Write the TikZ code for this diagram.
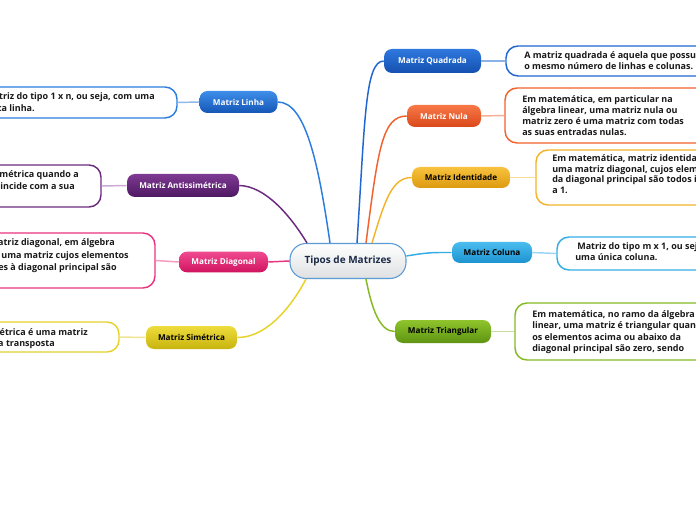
\documentclass[tikz,border=0pt]{standalone}
\usepackage{fontspec}
\setmainfont{Open Sans}
\usetikzlibrary{calc}
\definecolor{cLinha}{HTML}{2B7DE0}
\definecolor{cLinhaT}{HTML}{3E8EEA}
\definecolor{cLinhaB}{HTML}{1556B5}
\definecolor{cLinhaL}{HTML}{8DB9EC}
\definecolor{cAnti}{HTML}{6B2A7F}
\definecolor{cAntiT}{HTML}{7E3A92}
\definecolor{cAntiB}{HTML}{4E1862}
\definecolor{cAntiL}{HTML}{CDA9D8}
\definecolor{cDiag}{HTML}{E8337F}
\definecolor{cDiagT}{HTML}{F04A90}
\definecolor{cDiagB}{HTML}{D0145F}
\definecolor{cDiagL}{HTML}{F59BBF}
\definecolor{cSim}{HTML}{E6D229}
\definecolor{cSimT}{HTML}{EEDC3C}
\definecolor{cSimB}{HTML}{C8B40E}
\definecolor{cSimL}{HTML}{F1E594}
\definecolor{cQuad}{HTML}{1F66D0}
\definecolor{cQuadT}{HTML}{2F78DE}
\definecolor{cQuadB}{HTML}{1450B0}
\definecolor{cQuadL}{HTML}{8CB3E8}
\definecolor{cNula}{HTML}{F2622E}
\definecolor{cNulaT}{HTML}{F87848}
\definecolor{cNulaB}{HTML}{D9481A}
\definecolor{cNulaL}{HTML}{F7B096}
\definecolor{cIdent}{HTML}{F4B42A}
\definecolor{cIdentT}{HTML}{F8C23E}
\definecolor{cIdentB}{HTML}{DC9A10}
\definecolor{cIdentL}{HTML}{F9DB9A}
\definecolor{cCol}{HTML}{33ADE6}
\definecolor{cColT}{HTML}{4ABCEE}
\definecolor{cColB}{HTML}{1C92D0}
\definecolor{cColL}{HTML}{9AD6F2}
\definecolor{cTri}{HTML}{84BA22}
\definecolor{cTriT}{HTML}{8FC42C}
\definecolor{cTriB}{HTML}{5E9412}
\definecolor{cTriL}{HTML}{C9E0A0}
\definecolor{cCtrB}{HTML}{5A9AD5}
\definecolor{cCtrTxt}{HTML}{1B2A48}
\definecolor{cTxt}{HTML}{1A1A1A}
\begin{document}
\begin{tikzpicture}[x=0.75pt,y=-0.75pt,
  branch/.style={rounded corners=6pt, inner sep=0pt, font=\fontsize{6.1}{7}\selectfont\bfseries},
  tbox/.style={draw, rounded corners=9pt, line width=1.1pt, fill=white, inner sep=0pt},
  tline/.style={font=\fontsize{6.75}{8}\selectfont\bfseries, inner sep=0pt, text=cTxt},
  curve/.style={line width=1.1pt},
  link/.style={line width=1.1pt}]
\useasboundingbox (0,0) rectangle (696,520);
\clip (0,0) rectangle (696,520);
\fill[white] (0,0) rectangle (696,520);

% central node
\node[rounded corners=12pt, draw=cCtrB, line width=0.8pt, top color=white, bottom color=cCtrB!10!gray!25, minimum width=87pt, minimum height=26.25pt, inner sep=0pt, text=cCtrTxt, font=\fontsize{7.5}{9}\selectfont\bfseries] (ctr) at (348,261) {Tipos de Matrizes};

% branch nodes
\node[branch, top color=cLinhaT, bottom color=cLinhaB, text=white, minimum width=58.5pt, minimum height=16.5pt] (linha) at (238.5,102) {Matriz Linha};
\node[branch, top color=cAntiT, bottom color=cAntiB, text=white, minimum width=84pt, minimum height=17.25pt] (anti) at (183,185.5) {Matriz Antissimétrica};
\node[branch, top color=cDiagT, bottom color=cDiagB, text=white, minimum width=66.75pt, minimum height=15.5pt] (diag) at (223.5,262) {Matriz Diagonal};
\node[branch, top color=cSimT, bottom color=cSimB, text=black, minimum width=68.25pt, minimum height=17.25pt] (sim) at (191.5,337.5) {Matriz Simétrica};
\node[branch, top color=cQuadT, bottom color=cQuadB, text=white, minimum width=72.75pt, minimum height=18pt] (quad) at (432.5,61) {Matriz Quadrada};
\node[branch, top color=cNulaT, bottom color=cNulaB, text=white, minimum width=55.5pt, minimum height=16.5pt] (nula) at (444,116) {Matriz Nula};
\node[branch, top color=cIdentT, bottom color=cIdentB, text=black, minimum width=73.5pt, minimum height=15.75pt] (ident) at (461,177.5) {Matriz Identidade};
\node[branch, top color=cColT, bottom color=cColB, text=black, minimum width=60pt, minimum height=15.75pt] (col) at (492,252.5) {Matriz Coluna};
\node[branch, top color=cTriT, bottom color=cTriB, text=black, minimum width=72pt, minimum height=17.25pt] (tri) at (443,331.5) {Matriz Triangular};

% text boxes
\node[tbox, draw=cLinha, minimum width=177.75pt, minimum height=23.25pt] (linhabox) at (58.5,102.5) {};
\node[tbox, draw=cAnti, minimum width=120.75pt, minimum height=31.5pt] (antibox) at (20.5,186) {};
\node[tbox, draw=cDiag, minimum width=161.25pt, minimum height=41.25pt] (diagbox) at (47.5,260.5) {};
\node[tbox, draw=cSim, minimum width=134.25pt, minimum height=22.5pt] (simbox) at (29.5,337) {};
\node[tbox, draw=cQuad, minimum width=190.5pt, minimum height=22.5pt] (quadbox) at (633,61) {};
\node[tbox, draw=cNula, minimum width=191.25pt, minimum height=41.25pt] (nulabox) at (632.5,115.5) {};
\node[tbox, draw=cIdent, minimum width=168pt, minimum height=41.25pt] (identbox) at (648,177.5) {};
\node[tbox, draw=cCol, minimum width=152.25pt, minimum height=24.75pt] (colbox) at (658.5,253.5) {};
\node[tbox, draw=cTri, minimum width=183.75pt, minimum height=42.75pt] (tribox) at (637.5,331.5) {};

% texts, left side
\node[tline, anchor=base east] (l1) at (155,100) {Matriz do tipo 1 x n, ou seja, com uma};
\node[tline, anchor=base east] (l2) at (35,112) {única linha.};
\node[tline, anchor=base east] (a1) at (79,178) {Uma matriz é antissimétrica quando a};
\node[tline, anchor=base east] (a2) at (75,190) {sua oposta coincide com a sua};
\node[tline, anchor=base east] (d1) at (115,246) {Matriz diagonal, em álgebra};
\node[tline, anchor=base east] (d2) at (129,259) {linear, é uma matriz cujos elementos};
\node[tline, anchor=base east] (d3) at (117,271) {exteriores à diagonal principal são};
\node[tline, anchor=base east] (s1) at (88,335) {Uma matriz simétrica é uma matriz};
\node[tline, anchor=base east] (s2) at (55,346.5) {igual à sua transposta};

% texts, right side
\node[tline, anchor=base west] (q1) at (524,59) {A matriz quadrada é aquela que possui};
\node[tline, anchor=base west] (q2) at (524,70) {o mesmo número de linhas e colunas.};
\node[tline, anchor=base west] (n1) at (522,103) {Em matemática, em particular na};
\node[tline, anchor=base west] (n2) at (522,114) {álgebra linear, uma matriz nula ou};
\node[tline, anchor=base west] (n3) at (522,125) {matriz zero é uma matriz com todas};
\node[tline, anchor=base west] (n4) at (522,136) {as suas entradas nulas.};
\node[tline, anchor=base west] (i1) at (552,162) {Em matemática, matriz identidade é};
\node[tline, anchor=base west] (i2) at (552,172.5) {uma matriz diagonal, cujos elementos};
\node[tline, anchor=base west] (i3) at (552,183) {da diagonal principal são todos iguais};
\node[tline, anchor=base west] (i4) at (552,193.5) {a 1.};
\node[tline, anchor=base west] (c1) at (577,250) {Matriz do tipo m x 1, ou seja, com};
\node[tline, anchor=base west] (c2) at (575,261) {uma única coluna.};
\node[tline, anchor=base west] (t1) at (532,317) {Em matemática, no ramo da álgebra};
\node[tline, anchor=base west] (t2) at (532,328.5) {linear, uma matriz é triangular quando};
\node[tline, anchor=base west] (t3) at (532,340) {os elementos acima ou abaixo da};
\node[tline, anchor=base west] (t4) at (532,351.5) {diagonal principal são zero, sendo};

% links branch -> box
\draw[link, cLinhaL] (linha.west) -- (linhabox.east);
\draw[link, cAntiL] (anti.west) -- (antibox.east);
\draw[link, cDiagL] (diag.west) -- (diagbox.east);
\draw[link, cSimL] (sim.west) -- (simbox.east);
\draw[link, cQuadL] (quad.east) -- (quadbox.west);
\draw[link, cNulaL] (nula.east) -- (nulabox.west);
\draw[link, cIdentL] (ident.east) -- (identbox.west);
\draw[link, cColL] (col.east) -- (colbox.west);
\draw[link, cTriL] (tri.east) -- (tribox.west);

% curves center -> branches
\draw[curve, cLinha] ($(ctr.north)+(-18,0)$) .. controls (318,160) and (305,102) .. (linha.east);
\draw[curve, cAnti] ($(ctr.north)+(-41,0)$) .. controls (290,215) and (265,186) .. (anti.east);
\draw[curve, cDiag] (ctr.west) -- (diag.east);
\draw[curve, cSim] ($(ctr.south)+(-42,0)$) .. controls (295,300) and (270,337.5) .. (sim.east);
\draw[curve, cQuad] ($(ctr.north)+(9,0)$) .. controls (365,120) and (365,61) .. (quad.west);
\draw[curve, cNula] ($(ctr.north)+(18,0)$) .. controls (378,150) and (382,116) .. (nula.west);
\draw[curve, cIdent] ($(ctr.north)+(24,0)$) .. controls (385,200) and (392,177.5) .. (ident.west);
\draw[curve, cCol] ($(ctr.east)+(0,-5)$) .. controls (430,252) and (435,252.5) .. (col.west);
\draw[curve, cTri] ($(ctr.south)+(18,0)$) .. controls (372,310) and (380,331.5) .. (tri.west);
\end{tikzpicture}
\end{document}
